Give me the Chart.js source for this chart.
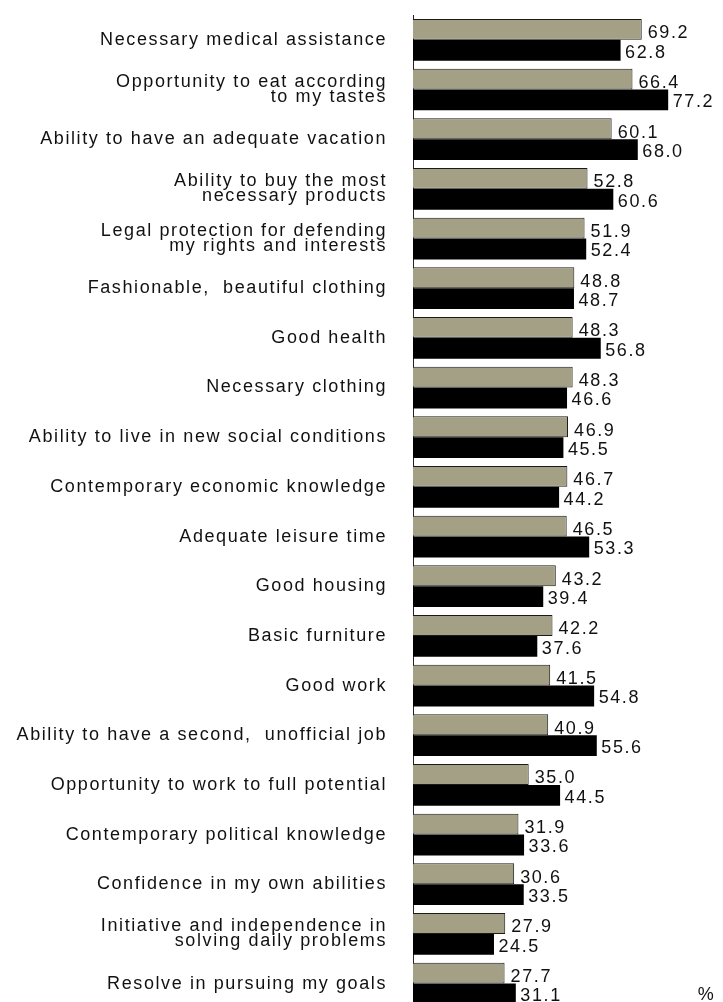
<!DOCTYPE html>
<html>
<head>
<meta charset="utf-8">
<script src="https://cdn.jsdelivr.net/npm/chart.js@4"></script>
<style>
  html, body { margin: 0; padding: 0; background: #fff; }
  #wrap { width: 723px; height: 1002px; overflow: hidden; }
  canvas { display: block; }
</style>
</head>
<body>
<div id="wrap"><canvas id="chart" width="723" height="1010"></canvas></div>
<script>
// categories, top to bottom
const categories = [
  'Necessary medical assistance',
  ['Opportunity to eat according', 'to my tastes'],
  'Ability to have an adequate vacation',
  ['Ability to buy the most', 'necessary products'],
  ['Legal protection for defending', 'my rights and interests'],
  'Fashionable,  beautiful clothing',
  'Good health',
  'Necessary clothing',
  'Ability to live in new social conditions',
  'Contemporary economic knowledge',
  'Adequate leisure time',
  'Good housing',
  'Basic furniture',
  'Good work',
  'Ability to have a second,  unofficial job',
  'Opportunity to work to full potential',
  'Contemporary political knowledge',
  'Confidence in my own abilities',
  ['Initiative and independence in', 'solving daily problems'],
  'Resolve in pursuing my goals'
];

// gray bars (upper in each pair)
const grayValues = [69.2, 66.4, 60.1, 52.8, 51.9, 48.8, 48.3, 48.3, 46.9, 46.7,
                    46.5, 43.2, 42.2, 41.5, 40.9, 35.0, 31.9, 30.6, 27.9, 27.7];
// black bars (lower in each pair)
const blackValues = [62.8, 77.2, 68.0, 60.6, 52.4, 48.7, 56.8, 46.6, 45.5, 44.2,
                     53.3, 39.4, 37.6, 54.8, 55.6, 44.5, 33.6, 33.5, 24.5, 31.1];

const unitLabel = '%';
const FONT = '"Liberation Sans", Arial, sans-serif';

// wider letter spacing, like the old bitmap font
const spacingPlugin = {
  id: 'spacing',
  beforeDraw(chart) {
    chart.ctx.letterSpacing = '1.6px';
  }
};

// value labels at the end of each bar, plus the unit sign
const valueLabels = {
  id: 'valueLabels',
  afterDatasetsDraw(chart) {
    const ctx = chart.ctx;
    ctx.save();
    ctx.font = '18px ' + FONT;
    ctx.fillStyle = '#111';
    ctx.textAlign = 'left';
    ctx.textBaseline = 'alphabetic';
    chart.data.datasets.forEach((ds, di) => {
      const meta = chart.getDatasetMeta(di);
      meta.data.forEach((bar, i) => {
        const gap = di === 0 ? 6 : 4.5;
        const dy = di === 0 ? 9 : 7.5;
        ctx.fillText(ds.data[i].toFixed(1), bar.x + gap, bar.y + dy);
      });
    });
    const area = chart.chartArea;
    ctx.textAlign = 'center';
    ctx.fillText(unitLabel, area.right - 4, 1000);
    ctx.restore();
  }
};

new Chart(document.getElementById('chart'), {
  type: 'bar',
  data: {
    labels: categories,
    datasets: [
      {
        label: 'Gray',
        data: grayValues,
        backgroundColor: '#A3A085',
        borderColor: '#1a1a1a',
        borderWidth: 1,
        categoryPercentage: 0.84,
        barPercentage: 1
      },
      {
        label: 'Black',
        data: blackValues,
        backgroundColor: '#000',
        borderWidth: 0,
        categoryPercentage: 0.84,
        barPercentage: 1
      }
    ]
  },
  options: {
    indexAxis: 'y',
    responsive: false,
    devicePixelRatio: 1,
    animation: false,
    layout: { padding: { top: 15, bottom: 1.6, left: 0, right: 12.5 } },
    plugins: {
      legend: { display: false },
      tooltip: { enabled: false }
    },
    scales: {
      x: {
        display: false,
        min: 0,
        max: 90
      },
      y: {
        afterFit(scale) {
          scale.width = 413;
          // labels must not push the plot area in from top/bottom
          scale.paddingTop = 0;
          scale.paddingBottom = 0;
        },
        grid: { display: false, drawTicks: false },
        border: { display: true, color: '#222', width: 1 },
        ticks: {
          autoSkip: false,
          padding: 26,
          color: '#111',
          font: { family: FONT, size: 18, lineHeight: 0.84 }
        }
      }
    }
  },
  plugins: [spacingPlugin, valueLabels]
});
</script>
</body>
</html>
